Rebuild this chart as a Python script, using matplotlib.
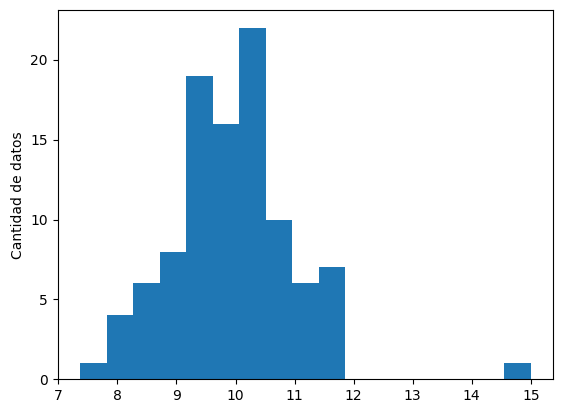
import matplotlib
matplotlib.use('Agg')
import matplotlib.pyplot as plt
import numpy as np

# bordes de los intervalos (17 bins entre el minimo y el maximo)
x_min = 7.37
x_max = 15.0
n_bins = 17
counts = [1, 4, 6, 8, 19, 16, 22, 10, 6, 7, 0, 0, 0, 0, 0, 0, 1]

edges = np.linspace(x_min, x_max, n_bins + 1)

fig = plt.figure(figsize=(5.63, 4.13), dpi=100)
ax = fig.add_subplot(111)
fig.subplots_adjust(left=0.1025, right=0.9828, top=0.975, bottom=0.0816)

ax.hist(edges[:-1], bins=edges, weights=counts)
ax.set_ylabel('Cantidad de datos')

fig.savefig('out.png', dpi=100)
